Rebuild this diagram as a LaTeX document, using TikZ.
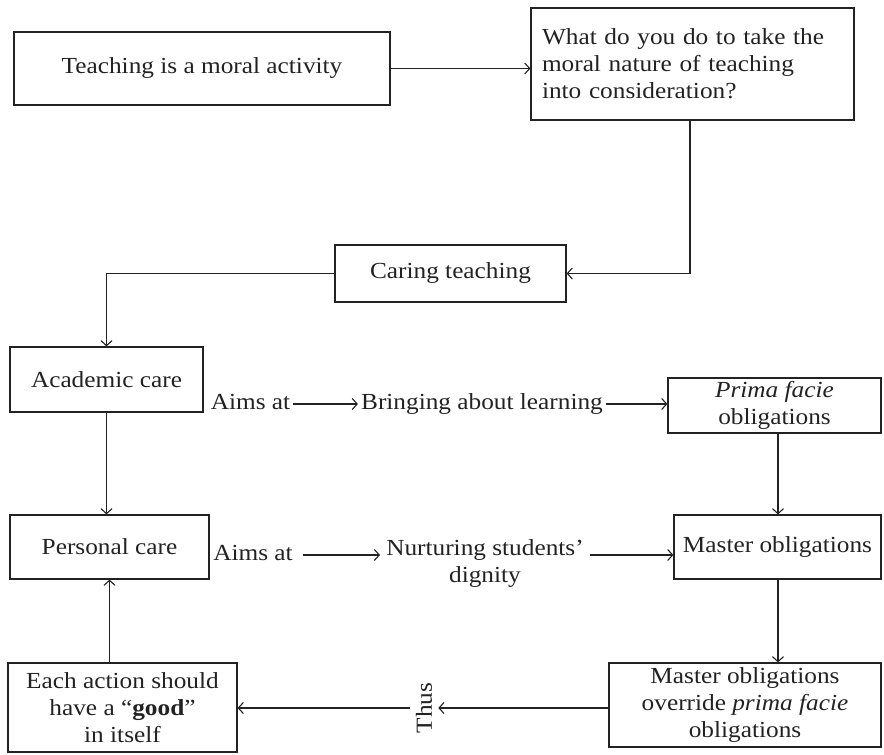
\documentclass[tikz,border=0pt]{standalone}
\usepackage{fontspec}
\setmainfont{Liberation Serif}[FakeStretch=1.1]
\usetikzlibrary{arrows.meta}
\definecolor{ink}{HTML}{222222}
\tikzset{
  box/.style={draw=ink, line width=1.2pt, inner sep=0pt, align=center, text=ink,
    font=\fontsize{23}{27}\selectfont},
  lbl/.style={inner sep=0pt, align=center, text=ink, font=\fontsize{23}{27}\selectfont},
  conn/.style={draw=ink, line width=1.1pt, -{Straight Barb[length=5pt,width=11pt]}},
  plain/.style={draw=ink, line width=1.1pt}
}
\begin{document}
\begin{tikzpicture}[x=1pt,y=1pt]
\useasboundingbox (0,0) rectangle (884,755);
\node[box, minimum width=376pt, minimum height=73pt] (b1) at (202,686.5) {Teaching is a moral activity};
\node[box, minimum width=323pt, minimum height=112pt, align=left, text width=301pt] (b2) at (692.5,691)
  {What do you do to take the\\moral nature of teaching\\into consideration?};
\node[box, minimum width=231pt, minimum height=57pt] (care) at (450.5,481.5) {Caring teaching};
\node[box, minimum width=193pt, minimum height=65pt] (acad) at (106.5,375.5) {Academic care};
\node[box, minimum width=213pt, minimum height=55pt] (prima) at (774.5,349.5) {\textit{Prima facie}\\obligations};
\node[box, minimum width=199pt, minimum height=64pt] (pers) at (109.5,208) {Personal care};
\node[box, minimum width=207pt, minimum height=64pt] (master) at (777.5,208) {Master obligations};
\node[box, minimum width=272pt, minimum height=84pt] (over) at (745,50) {Master obligations\\override \textit{prima facie}\\obligations};
\node[box, minimum width=229pt, minimum height=89pt] (each) at (122.5,47.5) {Each action should\\have a ``\textbf{good}''\\in itself};

\node[lbl, anchor=base] (aims1) at (250.5,345) {Aims at};
\node[lbl, anchor=base] (bring) at (482,345) {Bringing about learning};
\node[lbl, anchor=base] (aims2) at (253,194) {Aims at};
\node[lbl, anchor=north] (nurt) at (485,216) {Nurturing students'\\dignity};
\node[lbl, rotate=90] (thus) at (424,47) {Thus};

\coordinate (r1) at (0,351);
\coordinate (r2) at (0,200);
\coordinate (r3) at (0,47);

\draw[conn] (b1.east) -- (b1.east -| b2.west);
\draw[conn] (b2.south -| 690,0) |- (care.east);
\draw[conn] (care.west) -| (acad.north);
\draw[conn] (acad.south) -- (acad.south |- pers.north);
\draw[conn] ([xshift=3pt]aims1.east |- r1) -- ([xshift=-3pt]bring.west |- r1);
\draw[conn] ([xshift=3pt]bring.east |- r1) -- (prima.west |- r1);
\draw[conn] (prima.south -| 778,0) -- (master.north -| 778,0);
\draw[conn] ([xshift=10pt]aims2.east |- r2) -- ([xshift=-6pt]nurt.west |- r2);
\draw[conn] ([xshift=6pt]nurt.east |- r2) -- (master.west |- r2);
\draw[conn] (master.south -| 778,0) -- (over.north -| 778,0);
\draw[conn] (over.west |- r3) -- ([xshift=6pt]thus.south |- r3);
\draw[conn] ([xshift=-6pt]thus.north |- r3) -- (each.east |- r3);
\draw[conn] (each.north -| pers.south) -- (pers.south);
\end{tikzpicture}
\end{document}
